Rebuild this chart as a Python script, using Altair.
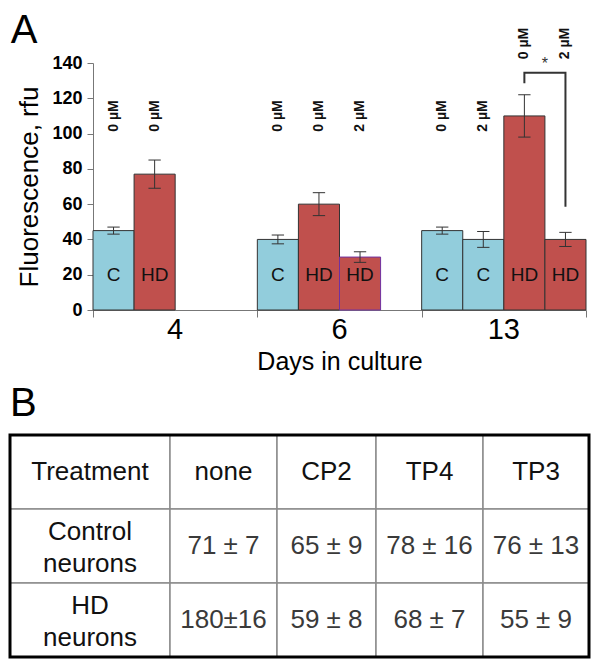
import altair as alt
import pandas as pd

FONT = "Liberation Sans"

# ---------------- Panel A data ----------------
days = ["4", "6", "13"]
bar_day = ["4", "4", "6", "6", "6", "13", "13", "13", "13"]
bar_slot = [0, 1, 4, 5, 6, 8, 9, 10, 11]
bar_cell = ["C", "HD", "C", "HD", "HD", "C", "C", "HD", "HD"]
bar_dose = ["0 µM", "0 µM", "0 µM", "0 µM", "2 µM", "0 µM", "2 µM", "0 µM", "2 µM"]
bar_value = [45, 77, 40, 60, 30, 45, 40, 110, 40]
bar_err = [2, 8, 2.5, 6.5, 3, 2, 4.5, 12, 4]
y_ticks = [0, 20, 40, 60, 80, 100, 120, 140]

sig_pair = [10, 11]          # slots of the two compared bars
sig_top = 134.5
sig_leg_bottom = [128.5, 58.5]
sig_label = "*"

# ---------------- Panel B data ----------------
tbl_header = ["Treatment", "none", "CP2", "TP4", "TP3"]
tbl_col_width = [160, 107, 99, 107, 106]
tbl_rows = ["Control\nneurons", "HD\nneurons"]
tbl_control = ["71 ± 7", "65 ± 9", "78 ± 16", "76 ± 13"]
tbl_hd = ["180±16", "59 ± 8", "68 ± 7", "55 ± 9"]

# ---------------- build panel A ----------------
n_slots = 12
bdf = pd.DataFrame({
    "day": bar_day, "slot": bar_slot, "cell": bar_cell, "dose": bar_dose,
    "value": bar_value, "err": bar_err,
})
bdf["slot_end"] = bdf["slot"] + 1
bdf["mid"] = bdf["slot"] + 0.5
bdf["lo"] = bdf["value"] - bdf["err"]
bdf["hi"] = bdf["value"] + bdf["err"]
bdf["cap_l"] = bdf["mid"] - 0.15
bdf["cap_r"] = bdf["mid"] + 0.15
bdf["label_y"] = [sig_top + 16.5 if s in sig_pair else 110 for s in bar_slot]

xs = alt.Scale(domain=[0, n_slots], nice=False, zero=False)
ys = alt.Scale(domain=[0, 140], nice=False)

x_axis = alt.Axis(
    values=[0, 4, 8, 12], labels=False, tickSize=7, tickColor="#777777",
    domainColor="#777777", grid=False, title="Days in culture",
    titleFont=FONT, titleFontSize=25, titleFontWeight="normal",
    titleColor="black", titlePadding=32)
y_axis = alt.Axis(
    values=y_ticks, tickSize=6, tickColor="#777777", domainColor="#777777",
    grid=False, labelFont=FONT, labelFontSize=18, labelFontWeight="bold",
    labelColor="black", labelPadding=5, labelOverlap=False, labelFlush=False,
    title="Fluorescence, rfu", titleFont=FONT, titleFontSize=26,
    titleFontWeight="normal", titleColor="black", titlePadding=9)


def X(field):
    return alt.X(field, scale=xs, axis=x_axis)


def Y(field):
    return alt.Y(field, scale=ys, axis=y_axis)


def XD(v):
    return alt.XDatum(v, scale=xs, axis=x_axis)


def YD(v):
    return alt.YDatum(v, scale=ys, axis=y_axis)


base = alt.Chart(bdf)

bars = base.mark_rect(strokeWidth=1).encode(
    x=X("slot:Q"), x2="slot_end:Q",
    y=Y("value:Q"), y2=alt.datum(0),
    color=alt.Color("cell:N", scale=alt.Scale(domain=["C", "HD"],
                    range=["#92cddc", "#c0504d"]), legend=None),
    stroke=alt.condition("datum.slot == 6", alt.value("#7030a0"), alt.value("#333333")),
)

err_rule = base.mark_rule(color="#333333", strokeWidth=1).encode(
    x=X("mid:Q"), y=Y("lo:Q"), y2="hi:Q")
cap_hi = base.mark_rule(color="#333333", strokeWidth=1).encode(
    x=X("cap_l:Q"), x2="cap_r:Q", y=Y("hi:Q"))
cap_lo = base.mark_rule(color="#333333", strokeWidth=1).encode(
    x=X("cap_l:Q"), x2="cap_r:Q", y=Y("lo:Q"))

cell_txt = base.mark_text(font=FONT, fontSize=19, color="#111111").encode(
    x=X("mid:Q"), y=YD(20), text="cell:N")

dose_txt = base.mark_text(font=FONT, fontSize=14, fontWeight="bold",
                          color="#111111", angle=270).encode(
    x=X("mid:Q"), y=Y("label_y:Q"), text="dose:N")

ddf = pd.DataFrame({"day": days, "pos": [4 * i + 2 for i in range(len(days))]})
day_txt = alt.Chart(ddf).mark_text(font=FONT, fontSize=29, baseline="top",
                                   dy=6, color="black").encode(
    x=X("pos:Q"), y=YD(0), text="day:N")

brdf = pd.DataFrame({
    "order": [0, 1, 2, 3],
    "bx": [sig_pair[0] + 0.5, sig_pair[0] + 0.5, sig_pair[1] + 0.5, sig_pair[1] + 0.5],
    "by": [sig_leg_bottom[0], sig_top, sig_top, sig_leg_bottom[1]],
})
bracket = alt.Chart(brdf).mark_line(color="#333333", strokeWidth=2).encode(
    x=X("bx:Q"), y=Y("by:Q"), order="order:Q")

star = alt.Chart(pd.DataFrame({"t": [sig_label]})).mark_text(
    font=FONT, fontSize=16, color="#333333").encode(
    x=XD((sig_pair[0] + sig_pair[1]) / 2 + 0.5), y=YD(sig_top + 5), text="t:N")

letter_a = alt.Chart(pd.DataFrame({"t": ["A"]})).mark_text(
    font=FONT, fontSize=40, align="left", baseline="top", color="black").encode(
    x=XD(-2.0), y=YD(169.5), text="t:N")

chart_a = alt.layer(bars, err_rule, cap_hi, cap_lo, cell_txt, dose_txt,
                    day_txt, bracket, star, letter_a).properties(width=493, height=247)

# ---------------- build panel B ----------------
edges = [0]
for w in tbl_col_width:
    edges.append(edges[-1] + w)
total_w = edges[-1]
bleed = 83            # part of the table that sits left of panel A's plot origin

grid = [tbl_header,
        [tbl_rows[0]] + tbl_control,
        [tbl_rows[1]] + tbl_hd]
recs = []
for r, row in enumerate(grid):
    for c, txt in enumerate(row):
        recs.append({
            "x0": edges[c], "x1": edges[c + 1], "xc": (edges[c] + edges[c + 1]) / 2,
            "y0": r, "y1": r + 1, "yc": r + 0.5, "text": txt,
            "kind": "head" if (r == 0 or c == 0) else "value",
            "multi": "\n" in txt,
        })
tdf = pd.DataFrame(recs)

txs = alt.Scale(domain=[bleed, total_w], nice=False, zero=False)
tys = alt.Scale(domain=[0, len(grid)], nice=False, zero=False, reverse=True)

tbase = alt.Chart(tdf)
cells = tbase.mark_rect(fill="white", stroke="#8c8c8c", strokeWidth=1.5).encode(
    x=alt.X("x0:Q", scale=txs, axis=None), x2="x1:Q",
    y=alt.Y("y0:Q", scale=tys, axis=None), y2="y1:Q")

outer = alt.Chart(pd.DataFrame({"x0": [0], "x1": [total_w], "y0": [0], "y1": [len(grid)]})).mark_rect(
    fillOpacity=0, stroke="black", strokeWidth=3).encode(
    x=alt.X("x0:Q", scale=txs, axis=None), x2="x1:Q",
    y=alt.Y("y0:Q", scale=tys, axis=None), y2="y1:Q")

tcolor = alt.Color("kind:N", scale=alt.Scale(domain=["head", "value"],
                   range=["#111111", "#3a3a3a"]), legend=None)

single_text = tbase.transform_filter("!datum.multi").mark_text(
    font=FONT, fontSize=26).encode(
    x=alt.X("xc:Q", scale=txs, axis=None), y=alt.Y("yc:Q", scale=tys, axis=None),
    text="text:N", color=tcolor)

multi_text = tbase.transform_filter("datum.multi").mark_text(
    font=FONT, fontSize=26, lineBreak="\n", lineHeight=32, dy=-14).encode(
    x=alt.X("xc:Q", scale=txs, axis=None), y=alt.Y("yc:Q", scale=tys, axis=None),
    text="text:N", color=tcolor)

letter_b = alt.Chart(pd.DataFrame({"t": ["B"]})).mark_text(
    font=FONT, fontSize=40, align="left", baseline="top", color="black").encode(
    x=alt.XDatum(0, scale=txs, axis=None), y=alt.YDatum(-0.69, scale=tys, axis=None),
    text="t:N")

chart_b = alt.layer(cells, outer, single_text, multi_text, letter_b).properties(
    width=total_w - bleed, height=222)

chart = alt.vconcat(chart_a, chart_b, spacing=8).properties(
    padding={"top": 2, "left": 0, "right": 0, "bottom": 0}, background="white"
).configure_view(stroke=None).resolve_scale(color="independent")

chart.save("out.html", embed_options={"renderer": "svg", "actions": False})
